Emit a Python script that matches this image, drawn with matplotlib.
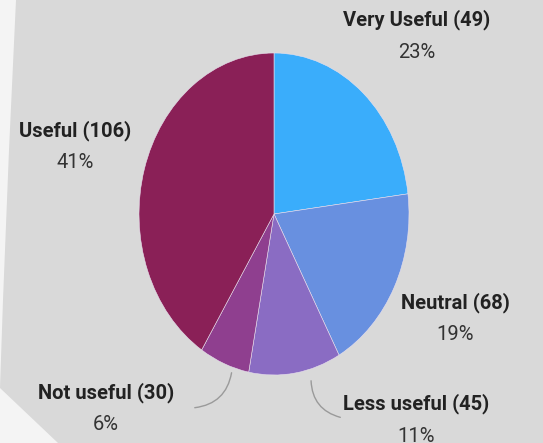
import matplotlib
matplotlib.use("Agg")
import matplotlib.pyplot as plt
from matplotlib.patches import Polygon

# survey answers, clockwise from 12 o'clock
labels = ["Very Useful", "Neutral", "Less useful", "Not useful", "Useful"]
counts = [49, 68, 45, 30, 106]
shares = [23, 19, 11, 6, 41]
colors = ["#3aadfb", "#6890e0", "#8a6cc3", "#8f3f8f", "#8a2057"]

# label anchor (pixel coords, top-left origin)
label_pos = [(417, 20), (455, 303), (416, 404), (106, 393), (75, 131)]

W, H = 543, 443
fig = plt.figure(figsize=(W / 100, H / 100), dpi=100)
fig.patch.set_facecolor("#f4f4f4")

# background panel in pixel space
bg = fig.add_axes([0, 0, 1, 1])
bg.set_xlim(0, W)
bg.set_ylim(H, 0)
bg.axis("off")
bg.add_patch(Polygon([(16, 0), (W, 0), (W, H), (58, H), (0, 388), (3, 300), (9, 150)],
                     closed=True, facecolor="#d9d9d9", edgecolor="none"))

# pie, stretched vertically like the source
cx, cy, rx, ry = 274, 214, 135, 161
pax = fig.add_axes([(cx - rx) / W, (H - cy - ry) / H, 2 * rx / W, 2 * ry / H])
pax.pie(shares, colors=colors, startangle=90, counterclock=False,
        wedgeprops=dict(linewidth=0.4, edgecolor="#e8e0ee"))
pax.set_aspect("auto")
pax.set_xlim(-1, 1)
pax.set_ylim(-1, 1)
pax.axis("off")

# text overlay
ov = fig.add_axes([0, 0, 1, 1])
ov.set_xlim(0, W)
ov.set_ylim(H, 0)
ov.axis("off")
for name, n, p, (x, y) in zip(labels, counts, shares, label_pos):
    ov.text(x, y, f"{name} ({n})", ha="center", va="center", fontsize=14.5,
            fontweight="bold", family="Roboto", color="#222222")
    ov.text(x, y + 32, f"{p}%", ha="center", va="center", fontsize=14.5,
            family="Roboto", color="#333333")

# leader lines for the two small slices
ov.annotate("", xy=(192, 408), xytext=(232, 370),
            arrowprops=dict(arrowstyle="-", color="#9a9a9a", lw=1,
                            connectionstyle="arc3,rad=-0.4"))
ov.annotate("", xy=(343, 418), xytext=(311, 378),
            arrowprops=dict(arrowstyle="-", color="#9a9a9a", lw=1,
                            connectionstyle="arc3,rad=0.4"))

fig.savefig("out.png", dpi=100, facecolor=fig.get_facecolor())
